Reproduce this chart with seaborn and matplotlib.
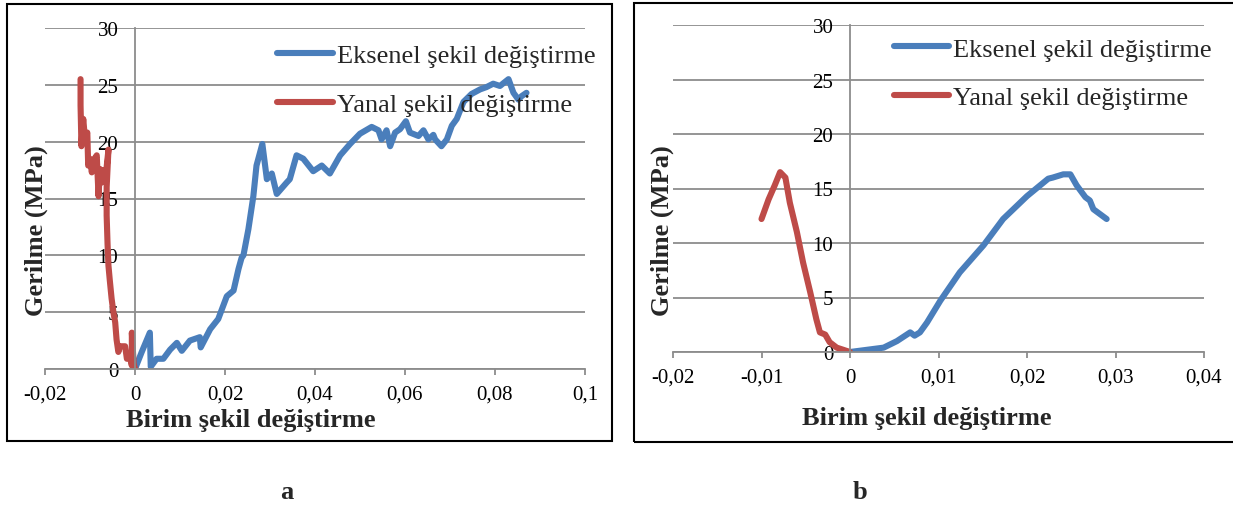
import matplotlib
matplotlib.use("Agg")
import matplotlib.pyplot as plt
from matplotlib.patches import Rectangle
import seaborn as sns
import pandas as pd

# ---------------- data ----------------
# Panel a
a_axial_strain = [0.0, 0.0015, 0.0033, 0.0035, 0.0048, 0.0063, 0.0078, 0.0093, 0.0104, 0.0122,
                  0.0144, 0.0146, 0.0167, 0.0185, 0.0204, 0.0219, 0.0230, 0.0237, 0.0241, 0.0252,
                  0.0263, 0.0270, 0.0283, 0.0293, 0.0304, 0.0315, 0.0337, 0.0344, 0.0359, 0.0374,
                  0.0396, 0.0415, 0.0433, 0.0456, 0.0478, 0.0500, 0.0526, 0.0541, 0.0548, 0.0559,
                  0.0567, 0.0578, 0.0589, 0.0602, 0.0611, 0.0630, 0.0641, 0.0652, 0.0663, 0.0667,
                  0.0681, 0.0693, 0.0704, 0.0715, 0.0730, 0.0748, 0.0767, 0.0781, 0.0796, 0.0811,
                  0.0830, 0.0841, 0.0852, 0.0859, 0.0870]
a_axial_stress = [0.0, 1.5, 3.2, 0.2, 0.9, 0.9, 1.7, 2.3, 1.6, 2.5,
                  2.8, 1.9, 3.5, 4.4, 6.4, 6.9, 8.8, 9.8, 10.0, 12.3,
                  15.2, 17.9, 19.8, 16.7, 17.2, 15.4, 16.4, 16.7, 18.8, 18.5,
                  17.4, 17.9, 17.2, 18.8, 19.8, 20.7, 21.3, 21.0, 20.2, 21.0,
                  19.6, 20.8, 21.1, 21.8, 20.8, 20.5, 21.0, 20.2, 20.6, 20.2,
                  19.6, 20.2, 21.4, 22.0, 23.5, 24.2, 24.6, 24.8, 25.1, 24.9,
                  25.5, 24.3, 23.7, 24.0, 24.3]
a_lateral_strain = [0.0, -0.0003, -0.0007, -0.0007, -0.0012, -0.0018, -0.0022, -0.0033, -0.0037, -0.0041,
                    -0.0044, -0.0048, -0.0052, -0.0056, -0.0059, -0.0061, -0.0063, -0.0063, -0.0059, -0.0065,
                    -0.0070, -0.0074, -0.0078, -0.0081, -0.0085, -0.0090, -0.0096, -0.0100, -0.0104, -0.0106,
                    -0.0111, -0.0115, -0.0117, -0.0119, -0.0121, -0.0121]
a_lateral_stress = [0.0, 0.5, 3.2, 0.3, 1.2, 0.9, 2.0, 2.0, 1.5, 2.6,
                    4.1, 5.0, 6.2, 7.8, 9.1, 11.0, 13.5, 16.0, 19.3, 17.0,
                    17.5, 16.4, 17.6, 15.2, 18.8, 18.5, 17.3, 18.5, 17.9, 20.8,
                    20.2, 22.0, 21.0, 19.6, 23.2, 25.5]

# Panel b
b_axial_strain = [0.0, 0.0038, 0.0053, 0.0068, 0.0073, 0.0079, 0.0087, 0.0102, 0.0124, 0.0151,
                  0.0173, 0.0200, 0.0224, 0.0229, 0.0241, 0.0249, 0.0256, 0.0266, 0.0271, 0.0275,
                  0.0290]
b_axial_stress = [0.0, 0.4, 1.0, 1.8, 1.5, 1.8, 2.7, 4.7, 7.3, 9.8,
                  12.2, 14.3, 15.9, 16.0, 16.3, 16.3, 15.3, 14.2, 13.9, 13.1,
                  12.2]
b_lateral_strain = [0.0, -0.0015, -0.0023, -0.0028, -0.0034, -0.0038, -0.0045, -0.0053, -0.0060, -0.0068,
                    -0.0073, -0.0079, -0.0085, -0.0092, -0.0100]
b_lateral_stress = [0.0, 0.4, 0.9, 1.6, 1.8, 3.0, 5.5, 8.2, 11.0, 13.7,
                    16.0, 16.5, 15.3, 14.0, 12.2]

labels = ["Eksenel şekil değiştirme", "Yanal şekil değiştirme"]
x_label = "Birim şekil değiştirme"
y_label = "Gerilme (MPa)"
panel_letters = ["a", "b"]

a_xticks = [-0.02, 0.0, 0.02, 0.04, 0.06, 0.08, 0.1]
a_xticklabels = ["-0,02", "0", "0,02", "0,04", "0,06", "0,08", "0,1"]
b_xticks = [-0.02, -0.01, 0.0, 0.01, 0.02, 0.03, 0.04]
b_xticklabels = ["-0,02", "-0,01", "0", "0,01", "0,02", "0,03", "0,04"]
yticks = [0, 5, 10, 15, 20, 25, 30]
yticklabels = ["0", "5", "10", "15", "20", "25", "30"]

# ---------------- style ----------------
sns.set_theme(style="white")
plt.rcParams["font.family"] = ["Liberation Serif", "DejaVu Serif"]

BLUE = "#4A7EBB"
RED = "#BE4B48"
GRID = "#8C8C8C"
LW = 4.4

W, H = 1233, 506
fig = plt.figure(figsize=(W / 100, H / 100), dpi=100)


def fx(px):
    return px / W


def fy(py):
    return 1 - py / H


def make_panel(rect_px, xlim, xticks, xticklabels, ax_strain, ax_stress, lat_strain, lat_stress,
               legend_anchor, xlabel_pos, ylabel_pos):
    l, t, r, b = rect_px
    ax = fig.add_axes([fx(l), fy(b), fx(r) - fx(l), fy(t) - fy(b)])
    df_ax = pd.DataFrame({"x": ax_strain, "y": ax_stress})
    df_lat = pd.DataFrame({"x": lat_strain, "y": lat_stress})
    sns.lineplot(data=df_ax, x="x", y="y", sort=False, estimator=None, ax=ax,
                 color=BLUE, linewidth=LW, label=labels[0], solid_capstyle="round",
                 solid_joinstyle="round")
    sns.lineplot(data=df_lat, x="x", y="y", sort=False, estimator=None, ax=ax,
                 color=RED, linewidth=LW, label=labels[1], solid_capstyle="round",
                 solid_joinstyle="round")
    ax.set_xlim(*xlim)
    ax.set_ylim(0, 30)
    ax.set_xticks(xticks)
    ax.set_xticklabels(xticklabels)
    ax.set_yticks(yticks)
    ax.set_yticklabels(yticklabels)
    ax.set_axisbelow(True)
    ax.yaxis.grid(True, color=GRID, linewidth=1.3)
    ax.xaxis.grid(False)
    for s in ["top", "right"]:
        ax.spines[s].set_visible(False)
    ax.spines["left"].set_position(("data", 0))
    ax.spines["left"].set_color(GRID)
    ax.spines["left"].set_linewidth(1.3)
    ax.spines["bottom"].set_color(GRID)
    ax.spines["bottom"].set_linewidth(1.3)
    ax.tick_params(axis="x", direction="out", length=4.5, width=1.3, color=GRID,
                   pad=7, labelsize=15, labelcolor="black", bottom=True)
    ax.tick_params(axis="y", length=0, pad=12, labelsize=15, labelcolor="black")
    ax.set_xlabel(x_label, fontsize=19, fontweight="bold", va="center", ha="center")
    ax.set_ylabel(y_label, fontsize=19, fontweight="bold", va="center", ha="center")
    ax.xaxis.set_label_coords(*xlabel_pos)
    ax.yaxis.set_label_coords(*ylabel_pos)
    leg = ax.legend(loc="upper left", bbox_to_anchor=legend_anchor, frameon=False,
                    fontsize=19, handlelength=2.1, handletextpad=0.15,
                    labelspacing=0.95, borderpad=0, borderaxespad=0)
    for line in leg.get_lines():
        line.set_linewidth(LW)
    return ax


# Panel a: axes spans x -0.02..0.1 at px 45..585, y 30..0 at px 29..370
make_panel((45, 29, 585, 370), (-0.02, 0.1), a_xticks, a_xticklabels,
           a_axial_strain, a_axial_stress, a_lateral_strain, a_lateral_stress,
           legend_anchor=(0.43, 0.953), xlabel_pos=(0.381, -0.147), ylabel_pos=(-0.017, 0.408))

# Panel b: axes spans x -0.02..0.04 at px 673..1204, y 30..0 at px 26..353
make_panel((673, 26, 1204, 353), (-0.02, 0.04), b_xticks, b_xticklabels,
           b_axial_strain, b_axial_stress, b_lateral_strain, b_lateral_stress,
           legend_anchor=(0.416, 0.963), xlabel_pos=(0.478, -0.199), ylabel_pos=(-0.021, 0.373))

# outer chart frames
fig.add_artist(Rectangle((fx(7), fy(442)), fx(612) - fx(7), fy(5) - fy(442),
                         transform=fig.transFigure, fill=False, edgecolor="black", linewidth=1.5))
fig.add_artist(Rectangle((fx(634), fy(443)), fx(1245) - fx(634), fy(4) - fy(443),
                         transform=fig.transFigure, fill=False, edgecolor="black", linewidth=1.5))

# panel letters
fig.text(fx(287), fy(493), panel_letters[0], fontsize=19, fontweight="bold", ha="center", va="center")
fig.text(fx(860), fy(493), panel_letters[1], fontsize=19, fontweight="bold", ha="center", va="center")

fig.savefig("out.png", dpi=100)
